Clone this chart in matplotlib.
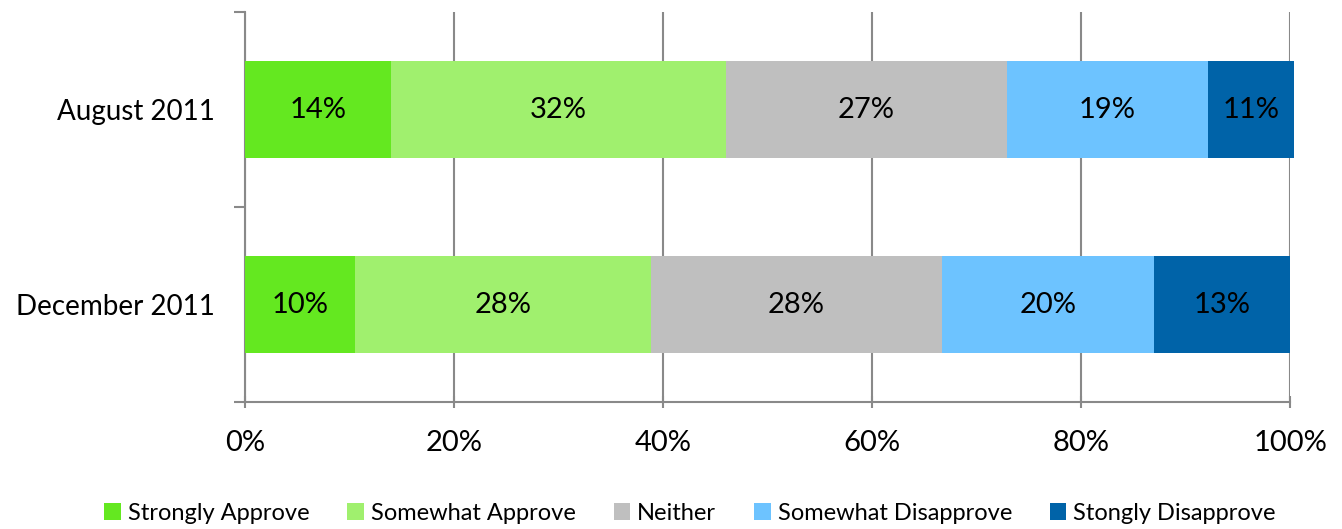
import matplotlib
matplotlib.use("Agg")
import matplotlib.pyplot as plt
import numpy as np
from matplotlib.ticker import FuncFormatter

# survey periods, bottom to top
periods = ["December 2011", "August 2011"]
categories = ["Strongly Approve", "Somewhat Approve", "Neither",
              "Somewhat Disapprove", "Stongly Disapprove"]
# segment widths as drawn (percent of respondents)
dec_values = [10.5, 28.3, 27.9, 20.3, 13.0]
aug_values = [14.0, 32.0, 26.9, 19.2, 8.3]
# labels printed on the segments
dec_labels = ["10%", "28%", "28%", "20%", "13%"]
aug_labels = ["14%", "32%", "27%", "19%", "11%"]
colors = ["#64E820", "#A0F06E", "#BFBFBF", "#6DC3FF", "#0063A8"]

plt.rcParams['font.family'] = ['Lato', 'DejaVu Sans']

fig = plt.figure(figsize=(13.42, 5.29), dpi=100)
ax = fig.add_axes([0.1826, 0.240, 0.9613 - 0.1826, 0.977 - 0.240])

values = np.array([dec_values, aug_values])
labels = [dec_labels, aug_labels]
y = np.arange(len(periods))
left = np.zeros(len(periods))
for i, cat in enumerate(categories):
    w = values[:, i]
    ax.barh(y, w, left=left, height=0.5, color=colors[i], label=cat,
            zorder=3, clip_on=False)
    for j in range(len(periods)):
        ax.text(left[j] + w[j] / 2, y[j], labels[j][i], ha='center',
                va='center', fontsize=21, color='black', zorder=4)
    left += w

ax.set_xlim(0, 100)
ax.set_ylim(-0.5, 1.5)
ax.set_xticks(np.arange(0, 101, 20))
ax.xaxis.set_major_formatter(FuncFormatter(lambda v, p: f"{int(v)}%"))
ax.set_yticks(y)
ax.set_yticklabels(periods)
ax.set_yticks([-0.5, 0.5, 1.5], minor=True)
ax.tick_params(axis='y', which='major', length=0, pad=22, labelsize=20)
ax.tick_params(axis='y', which='minor', length=8, color='#898989', width=1.5)
ax.tick_params(axis='x', length=8, color='#898989', width=1.5,
               labelsize=21, pad=16, direction='inout')
ax.grid(axis='x', color='#898989', linewidth=1.5, zorder=0)

for s in ['top', 'right']:
    ax.spines[s].set_visible(False)
for s in ['left', 'bottom']:
    ax.spines[s].set_color('#898989')
    ax.spines[s].set_linewidth(1.5)

ax.legend(loc='center', bbox_to_anchor=(0.426, -0.285), ncol=5,
          frameon=False, fontsize=17, handlelength=0.7, handleheight=0.7,
          handletextpad=0.3, columnspacing=1.6)

fig.savefig("out.png", dpi=100)
